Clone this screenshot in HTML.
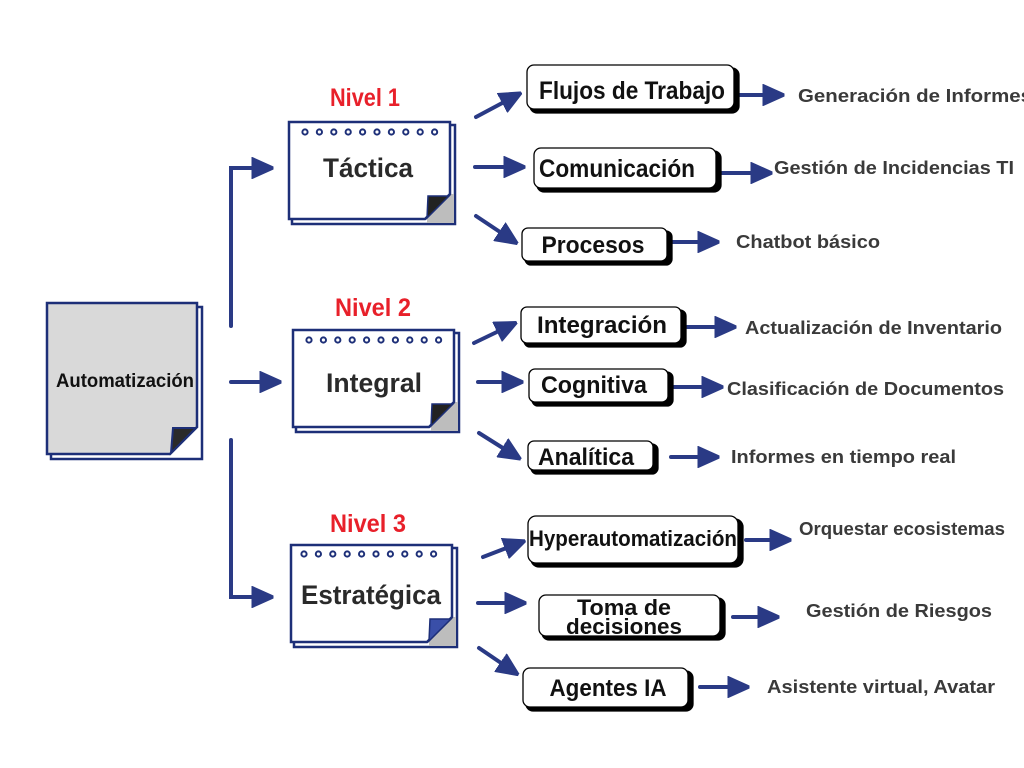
<!DOCTYPE html>
<html><head><meta charset="utf-8"><style>
html,body{margin:0;padding:0;background:#fff;width:1024px;height:768px;overflow:hidden}
svg{display:block}
.bl{font-family:"Liberation Sans Narrow","Liberation Sans",sans-serif;font-weight:bold;fill:#111}
.lv{font-family:"Liberation Sans Narrow","Liberation Sans",sans-serif;font-weight:bold;fill:#2a2a2a}
.nv{font-family:"Liberation Sans Narrow","Liberation Sans",sans-serif;font-weight:bold;fill:#e8202a}
.gt{font-family:"Liberation Sans",sans-serif;font-weight:bold;fill:#3a3a3a;font-size:18px}
</style></head><body>
<svg width="1024" height="768" viewBox="0 0 1024 768" xmlns="http://www.w3.org/2000/svg">
<defs>
<marker id="a" viewBox="0 0 10 10" refX="2" refY="5" markerWidth="5.5" markerHeight="5.5" orient="auto" markerUnits="strokeWidth">
<path d="M0,0.5 L10,5 L0,9.5z" fill="#2a3a85" stroke="#2a3a85" stroke-width="1.2" stroke-linejoin="round"/>
</marker>
<g id="dots" fill="none" stroke="#1d2f78" stroke-width="2">
<circle cx="0" cy="0" r="2.6"/><circle cx="14.4" cy="0" r="2.6"/><circle cx="28.8" cy="0" r="2.6"/><circle cx="43.2" cy="0" r="2.6"/><circle cx="57.6" cy="0" r="2.6"/><circle cx="72" cy="0" r="2.6"/><circle cx="86.4" cy="0" r="2.6"/><circle cx="100.8" cy="0" r="2.6"/><circle cx="115.2" cy="0" r="2.6"/><circle cx="129.6" cy="0" r="2.6"/>
</g>
</defs>

<!-- main box -->
<rect x="51" y="307" width="151" height="152" fill="#fff" stroke="#1d2f78" stroke-width="2.5"/>
<path d="M47,303 L197,303 L197,427 L170,454 L47,454 Z" fill="#d9d9d9" stroke="#1d2f78" stroke-width="2.5"/>
<path d="M173,428 L196,428 L171,453 Z" fill="#2a2a2a" stroke="#1d2f78" stroke-width="2"/>
<text class="bl" x="125" y="387" font-size="19" text-anchor="middle" textLength="138" lengthAdjust="spacingAndGlyphs" fill="#222">Automatización</text>

<!-- trunk lines -->
<g stroke="#2a3a85" stroke-width="4" fill="none" stroke-linecap="round">
<polyline points="231,326 231,168 256,168" marker-end="url(#a)"/>
<line x1="231" y1="382" x2="264" y2="382" marker-end="url(#a)"/>
<polyline points="231,440 231,597 256,597" marker-end="url(#a)"/>
</g>

<!-- level boxes -->
<g>
<rect x="292" y="125" width="163" height="99" fill="#fff" stroke="#1d2f78" stroke-width="2.5"/>
<path d="M427,194 L454,194 L454,223 L427,223Z" fill="#bdbdbd"/>
<path d="M289,122 L450,122 L450,194 L425,219 L289,219 Z" fill="#fff" stroke="#1d2f78" stroke-width="2.5"/>
<path d="M428,196 L449,196 L427,218 Z" fill="#222" stroke="#1d2f78" stroke-width="1.5"/>
<use href="#dots" x="305" y="132"/>
<text class="lv" x="368" y="177" font-size="27" text-anchor="middle" textLength="90" lengthAdjust="spacingAndGlyphs">Táctica</text>
<text class="nv" x="365" y="106" font-size="25" text-anchor="middle" textLength="70" lengthAdjust="spacingAndGlyphs">Nivel 1</text>
</g>
<g>
<rect x="296" y="333" width="163" height="99" fill="#fff" stroke="#1d2f78" stroke-width="2.5"/>
<path d="M431,402 L458,402 L458,431 L431,431Z" fill="#bdbdbd"/>
<path d="M293,330 L454,330 L454,402 L429,427 L293,427 Z" fill="#fff" stroke="#1d2f78" stroke-width="2.5"/>
<path d="M432,404 L453,404 L431,426 Z" fill="#222" stroke="#1d2f78" stroke-width="1.5"/>
<use href="#dots" x="309" y="340"/>
<text class="lv" x="374" y="392" font-size="27" text-anchor="middle" textLength="96" lengthAdjust="spacingAndGlyphs">Integral</text>
<text class="nv" x="373" y="316" font-size="25" text-anchor="middle" textLength="76" lengthAdjust="spacingAndGlyphs">Nivel 2</text>
</g>
<g>
<rect x="294" y="548" width="163" height="99" fill="#fff" stroke="#1d2f78" stroke-width="2.5"/>
<path d="M429,617 L456,617 L456,646 L429,646Z" fill="#bdbdbd"/>
<path d="M291,545 L452,545 L452,617 L427,642 L291,642 Z" fill="#fff" stroke="#1d2f78" stroke-width="2.5"/>
<path d="M430,619 L451,619 L429,641 Z" fill="#3a4fa8" stroke="#1d2f78" stroke-width="1.5"/>
<use href="#dots" x="304" y="554"/>
<text class="lv" x="371" y="604" font-size="27" text-anchor="middle" textLength="140" lengthAdjust="spacingAndGlyphs">Estratégica</text>
<text class="nv" x="368" y="532" font-size="25" text-anchor="middle" textLength="76" lengthAdjust="spacingAndGlyphs">Nivel 3</text>
</g>

<!-- branch arrows -->
<g stroke="#2a3a85" stroke-width="4" fill="none" stroke-linecap="round">
<line x1="476" y1="117" x2="506" y2="101" marker-end="url(#a)"/>
<line x1="475" y1="167" x2="508" y2="167" marker-end="url(#a)"/>
<line x1="476" y1="216" x2="503" y2="234" marker-end="url(#a)"/>
<line x1="474" y1="343" x2="501" y2="330" marker-end="url(#a)"/>
<line x1="478" y1="382" x2="506" y2="382" marker-end="url(#a)"/>
<line x1="479" y1="433" x2="506" y2="450" marker-end="url(#a)"/>
<line x1="483" y1="557" x2="509" y2="547" marker-end="url(#a)"/>
<line x1="478" y1="603" x2="509" y2="603" marker-end="url(#a)"/>
<line x1="479" y1="648" x2="504" y2="665" marker-end="url(#a)"/>

<line x1="737" y1="95" x2="767" y2="95" marker-end="url(#a)"/>
<line x1="722" y1="173" x2="755" y2="173" marker-end="url(#a)"/>
<line x1="672" y1="242" x2="702" y2="242" marker-end="url(#a)"/>
<line x1="687" y1="327" x2="719" y2="327" marker-end="url(#a)"/>
<line x1="674" y1="387" x2="706" y2="387" marker-end="url(#a)"/>
<line x1="671" y1="457" x2="702" y2="457" marker-end="url(#a)"/>
<line x1="746" y1="540" x2="774" y2="540" marker-end="url(#a)"/>
<line x1="733" y1="617" x2="762" y2="617" marker-end="url(#a)"/>
<line x1="700" y1="687" x2="732" y2="687" marker-end="url(#a)"/>
</g>

<!-- branch boxes -->
<g stroke="#000" stroke-width="1.3">
<rect x="530" y="68" width="209" height="45" rx="7" fill="#000"/>
<rect x="527" y="65" width="207" height="44" rx="7" fill="#fff"/>
<rect x="537" y="151" width="184" height="41" rx="7" fill="#000"/>
<rect x="534" y="148" width="182" height="40" rx="7" fill="#fff"/>
<rect x="525" y="231" width="147" height="34" rx="6" fill="#000"/>
<rect x="522" y="228" width="145" height="33" rx="6" fill="#fff"/>
<rect x="524" y="310" width="162" height="37" rx="6" fill="#000"/>
<rect x="521" y="307" width="160" height="36" rx="6" fill="#fff"/>
<rect x="532" y="372" width="141" height="34" rx="6" fill="#000"/>
<rect x="529" y="369" width="139" height="33" rx="6" fill="#fff"/>
<rect x="531" y="444" width="127" height="30" rx="6" fill="#000"/>
<rect x="528" y="441" width="125" height="29" rx="6" fill="#fff"/>
<rect x="531" y="519" width="212" height="48" rx="8" fill="#000"/>
<rect x="528" y="516" width="210" height="47" rx="8" fill="#fff"/>
<rect x="542" y="598" width="183" height="42" rx="7" fill="#000"/>
<rect x="539" y="595" width="181" height="41" rx="7" fill="#fff"/>
<rect x="526" y="671" width="167" height="40" rx="7" fill="#000"/>
<rect x="523" y="668" width="165" height="39" rx="7" fill="#fff"/>
</g>
<g class="bl" text-anchor="middle">
<text x="632" y="99" font-size="25" textLength="186" lengthAdjust="spacingAndGlyphs">Flujos de Trabajo</text>
<text x="617" y="177" font-size="25" textLength="156" lengthAdjust="spacingAndGlyphs">Comunicación</text>
<text x="593" y="253" font-size="24" textLength="103" lengthAdjust="spacingAndGlyphs">Procesos</text>
<text x="602" y="333" font-size="24" textLength="130" lengthAdjust="spacingAndGlyphs">Integración</text>
<text x="594" y="393" font-size="24" textLength="106" lengthAdjust="spacingAndGlyphs">Cognitiva</text>
<text x="586" y="465" font-size="24" textLength="96" lengthAdjust="spacingAndGlyphs">Analítica</text>
<text x="633" y="546" font-size="22" textLength="208" lengthAdjust="spacingAndGlyphs">Hyperautomatización</text>
<text x="624" y="615" font-size="22" textLength="94" lengthAdjust="spacingAndGlyphs">Toma de</text>
<text x="624" y="634" font-size="22" textLength="116" lengthAdjust="spacingAndGlyphs">decisiones</text>
<text x="608" y="696" font-size="24" textLength="117" lengthAdjust="spacingAndGlyphs">Agentes IA</text>
</g>

<!-- leaf labels -->
<text class="gt" x="798" y="102" textLength="234" lengthAdjust="spacingAndGlyphs">Generación de Informes</text>
<text class="gt" x="774" y="174" textLength="240" lengthAdjust="spacingAndGlyphs">Gestión de Incidencias TI</text>
<text class="gt" x="736" y="248" textLength="144" lengthAdjust="spacingAndGlyphs">Chatbot básico</text>
<text class="gt" x="745" y="334" textLength="257" lengthAdjust="spacingAndGlyphs">Actualización de Inventario</text>
<text class="gt" x="727" y="395" textLength="277" lengthAdjust="spacingAndGlyphs">Clasificación de Documentos</text>
<text class="gt" x="731" y="463" textLength="225" lengthAdjust="spacingAndGlyphs">Informes en tiempo real</text>
<text class="gt" x="799" y="535" textLength="206" lengthAdjust="spacingAndGlyphs">Orquestar ecosistemas</text>
<text class="gt" x="806" y="617" textLength="186" lengthAdjust="spacingAndGlyphs">Gestión de Riesgos</text>
<text class="gt" x="767" y="693" textLength="228" lengthAdjust="spacingAndGlyphs">Asistente virtual, Avatar</text>
</svg>
</body></html>
